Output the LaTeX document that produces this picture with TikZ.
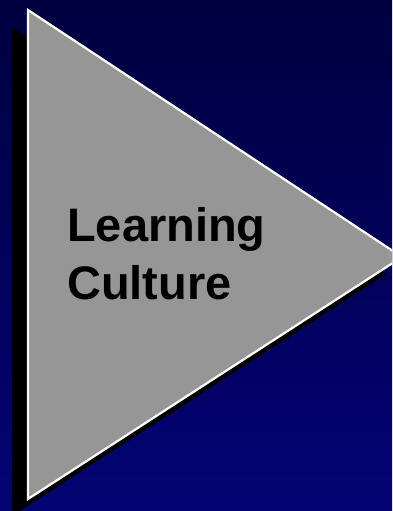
\documentclass[tikz,border=0pt]{standalone}
\usepackage{fontspec}
\setmainfont{Liberation Sans}
\usetikzlibrary{calc}
\begin{document}
\begin{tikzpicture}[x=1pt,y=1pt,
  panel/.style={fill={rgb,255:red,150;green,150;blue,150}, draw=white, line width=2.2pt, line join=miter},
  dropshadow/.style={fill=black},
  label/.style={anchor=base west, inner sep=0pt, font=\bfseries\fontsize{47}{58}\selectfont, text=black}]
  \useasboundingbox (0,0) rectangle (392,511);
  \clip (0,0) rectangle (392,511);
  % background gradient
  \shade[top color={rgb,255:red,0;green,0;blue,64}, bottom color={rgb,255:red,3;green,3;blue,116}]
    (0,0) rectangle (392,511);
  % triangle corners
  \coordinate (tl) at (28,501);
  \coordinate (bl) at (28,12);
  \coordinate (tip) at (402,254);
  % drop shadow, offset down and to the left
  \coordinate (off) at (-16,-17);
  \fill[dropshadow] ($(tl)+(off)$) -- ($(tip)+(off)$) -- ($(bl)+(off)$) -- cycle;
  % arrow panel
  \filldraw[panel] (tl) -- (tip) -- (bl) -- cycle;
  % caption
  \node[label] (l1) at (67,269) {Learning};
  \node[label] (l2) at (67,211) {Culture};
\end{tikzpicture}
\end{document}
